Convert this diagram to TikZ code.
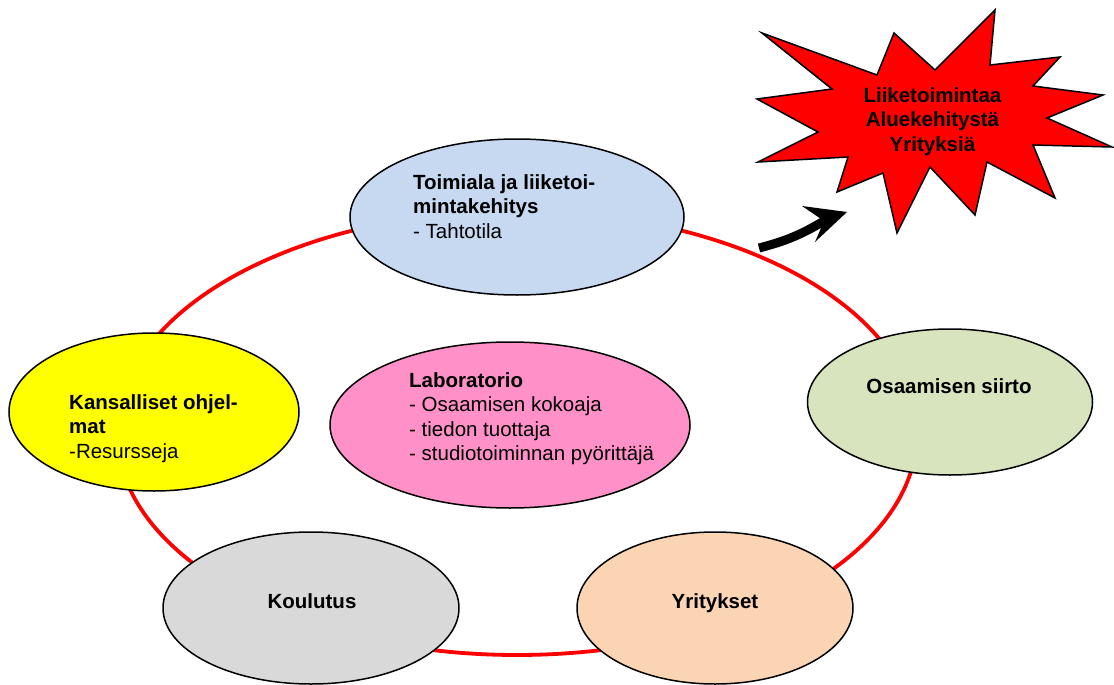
\documentclass[tikz,border=0pt]{standalone}
\usepackage{fontspec}
\setmainfont{Liberation Sans}
\usetikzlibrary{shapes.geometric,arrows.meta}
\definecolor{cblue}{HTML}{C6D9F1}
\definecolor{cyellow}{HTML}{FFFF00}
\definecolor{cpink}{HTML}{FF91C8}
\definecolor{cgreen}{HTML}{D7E4BD}
\definecolor{cgray}{HTML}{D9D9D9}
\definecolor{cpeach}{HTML}{FAD4B3}
\definecolor{ringred}{HTML}{FF0000}
\begin{document}
\begin{tikzpicture}[x=1pt,y=-1pt,
  bub/.style={ellipse, draw=black, line width=1.5pt, inner sep=0pt},
  txt/.style={inner sep=0pt, font=\fontsize{20.5}{24.5}\selectfont},
  ]
\useasboundingbox (0,0) rectangle (1114,685);
% red ring
\node[ellipse, draw=ringred, line width=3.8pt, minimum width=800pt, minimum height=444pt, inner sep=0pt] (ring) at (517,433) {};
% bubbles
\node[bub, fill=cblue, minimum width=334pt, minimum height=156pt] (toim) at (517,217) {};
\node[bub, fill=cyellow, minimum width=290pt, minimum height=158pt] (kans) at (154,412) {};
\node[bub, fill=cpink, minimum width=360pt, minimum height=166pt] (lab) at (510,425) {};
\node[bub, fill=cgreen, minimum width=285pt, minimum height=146pt] (osaa) at (950,402) {};
\node[bub, fill=cgray, minimum width=296pt, minimum height=152pt] (koul) at (311,608) {};
\node[bub, fill=cpeach, minimum width=276pt, minimum height=152pt] (yrit) at (715,608) {};
% texts
\node[txt, anchor=north west, align=left] (toimT) at (413,174) {\textbf{Toimiala ja liiketoi-}\\\textbf{mintakehitys}\\- Tahtotila};
\node[txt, anchor=north west, align=left] (kansT) at (69,394) {\textbf{Kansalliset ohjel-}\\\textbf{mat}\\-Resursseja};
\node[txt, anchor=north west, align=left] (labT) at (409,372) {\textbf{Laboratorio}\\- Osaamisen kokoaja\\- tiedon tuottaja\\- studiotoiminnan pyörittäjä};
\node[txt, anchor=base] (osaaT) at (949,393) {\textbf{Osaamisen siirto}};
\node[txt, anchor=base] (koulT) at (312,608) {\textbf{Koulutus}};
\node[txt, anchor=base] (yritT) at (715,608) {\textbf{Yritykset}};
% star
\draw[fill=red, line width=1.5pt] (762,33) -- (877,75) -- (894,33) -- (935,70) -- (995,10) -- (990,65) -- (1060,57) -- (1033,86) -- (1103,95) -- (1047,118) -- (1112,147) -- (1033,145) -- (1055,198) -- (987,162) -- (975,215) -- (930,167) -- (897,233) -- (883,173) -- (837,192) -- (848,157) -- (758,162) -- (818,132) -- (757,99) -- (832,89) -- cycle;
\node[txt, anchor=north, align=center] (starT) at (932.5,87) {\textbf{Liiketoimintaa}\\\textbf{Aluekehitystä}\\\textbf{Yrityksiä}};
% arrow
\coordinate (arrS) at (759,248);
\coordinate (arrB) at (824,221);
\coordinate (arrE) at (847,212);
\draw[line width=9pt] (arrS) to[bend right=8] (arrB);
\fill[black] (arrE) -- (802,206) -- (arrB) -- (815,242) -- cycle;
\end{tikzpicture}
\end{document}
